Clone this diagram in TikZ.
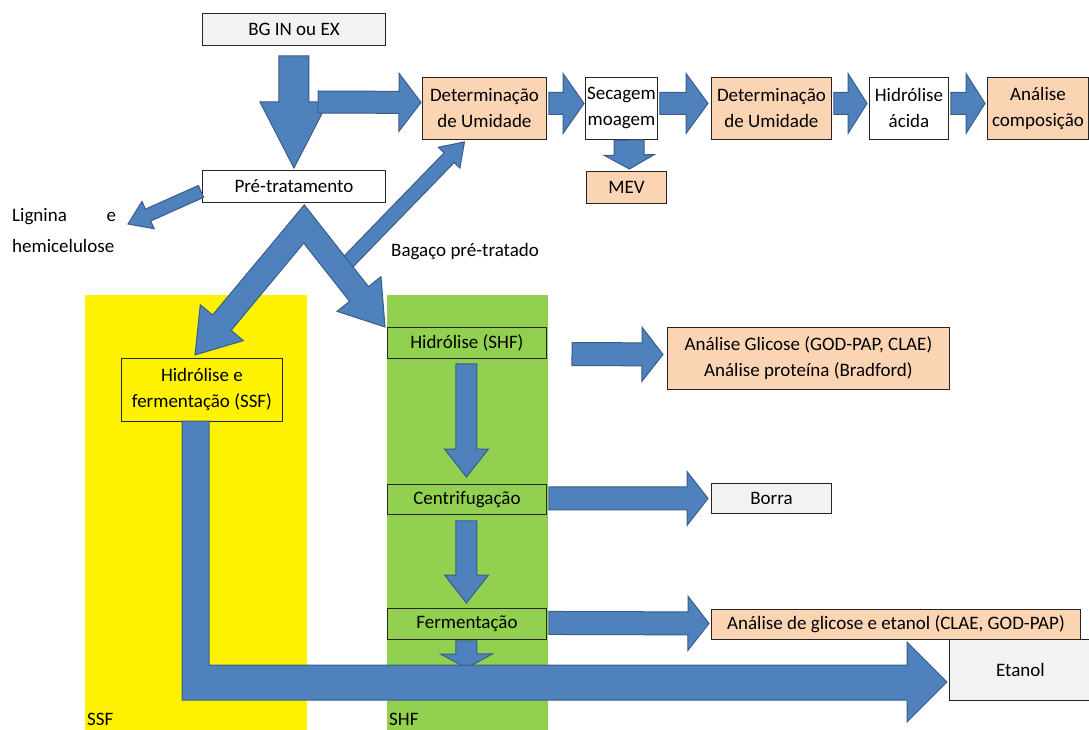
\documentclass[tikz,border=0pt]{standalone}
\usepackage{fontspec}
\setmainfont{Carlito}
\usetikzlibrary{calc}
\definecolor{peach}{HTML}{FBD4B4}
\definecolor{boxgray}{HTML}{F2F2F2}
\definecolor{arrblue}{HTML}{4F81BD}
\definecolor{arredge}{HTML}{385D8A}
\definecolor{shfgreen}{HTML}{92D050}
% block arrow: start, tip, shaft half width, head half width, head length
\newcommand{\fatarrow}[5]{%
  \coordinate (fa-s) at #1;
  \coordinate (fa-e) at #2;
  \coordinate (fa-b) at ($(fa-e)!#5!(fa-s)$);
  \filldraw[fatarr] ($(fa-s)!#3!90:(fa-e)$) -- ($(fa-b)!#3!90:(fa-e)$)
    -- ($(fa-b)!#4!90:(fa-e)$) -- (fa-e) -- ($(fa-b)!#4!-90:(fa-e)$)
    -- ($(fa-b)!#3!-90:(fa-e)$) -- ($(fa-s)!#3!-90:(fa-e)$) -- cycle;}
\begin{document}
\begin{tikzpicture}[x=1pt,y=-1pt,font=\fontsize{19}{26}\selectfont,
  box/.style={draw=black!85,line width=0.9pt,inner sep=0pt,align=center,anchor=north west},
  wh/.style 2 args={minimum width=#1,minimum height=#2},
  fatarr/.style={fill=arrblue,draw=arredge,line width=1pt,line join=miter}]
\useasboundingbox (0,0) rectangle (1089,730);
\fill[white] (0,0) rectangle (1089,730);
% lanes
\fill[yellow] (85,295) rectangle (307,730);
\fill[shfgreen] (387,295) rectangle (548,730);
\node[anchor=west,inner sep=0pt] (ssflab) at (87,719) {SSF};
\node[anchor=west,inner sep=0pt] (shflab) at (389,719) {SHF};
% top: characterisation
\node[box,wh={183}{32},fill=boxgray] (bg) at (202,13) {BG IN ou EX};
\node[box,wh={183}{32}] (pre) at (202,170) {Pré-tratamento};
\node[box,wh={124}{62},fill=peach] (det1) at (422,77) {Determinação\\de Umidade};
\node[box,wh={72}{62}] (sec) at (585,77) {Secagem\\moagem};
\node[box,wh={120}{62},fill=peach] (det2) at (711,77) {Determinação\\de Umidade};
\node[box,wh={79}{62}] (hac) at (869,77) {Hidrólise\\ácida};
\node[box,wh={101}{62},fill=peach] (comp) at (987,77) {Análise\\composição};
\node[box,wh={80}{32},fill=peach] (mev) at (586,171) {MEV};
\node[anchor=north west,inner sep=0pt,text width=104,align=left,
  font=\fontsize{19}{31}\selectfont] (lig) at (12,208) {Lignina\hfill e\\hemicelulose};
\node[anchor=west,inner sep=0pt] (bag) at (391,252) {Bagaço pré-tratado};
% SSF / SHF routes
\node[box,wh={161}{63}] (ssf) at (121,358) {Hidrólise e\\fermentação (SSF)};
\node[box,wh={159}{31}] (hshf) at (387,327) {Hidrólise (SHF)};
\node[box,wh={159}{30}] (cen) at (387,484) {Centrifugação};
\node[box,wh={159}{31}] (fer) at (387,608) {Fermentação};
\node[box,wh={282}{62},fill=peach] (ag) at (667,327) {Análise Glicose (GOD-PAP, CLAE)\\Análise proteína (Bradford)};
\node[box,wh={120}{30},fill=boxgray] (borra) at (711,483) {Borra};
\node[box,wh={369}{30},fill=peach] (age) at (711,609) {Análise de glicose e etanol (CLAE, GOD-PAP)};
\node[box,wh={142}{61},fill=boxgray] (eta) at (949,639) {Etanol};
% arrows, top
\fatarrow{($(bg.south)+(0,10)$)}{($(pre.north)+(0,-2)$)}{15pt}{34pt}{66pt}
\fatarrow{(318,102)}{($(det1.west)+(-1,-6)$)}{11pt}{29pt}{22pt}
\fatarrow{($(det1.east)+(2,-5)$)}{($(sec.west)+(-1,-5)$)}{11pt}{30pt}{21pt}
\fatarrow{($(sec.east)+(2,-5)$)}{($(det2.west)+(-3,-5)$)}{11pt}{30pt}{22pt}
\fatarrow{($(det2.east)+(2,-5)$)}{($(hac.west)+(-2,-5)$)}{11pt}{30pt}{19pt}
\fatarrow{($(hac.east)+(2,-5)$)}{($(comp.west)+(-2,-5)$)}{11pt}{30pt}{19pt}
\fatarrow{(629,140)}{($(mev.north)+(3,-2)$)}{15pt}{25pt}{14pt}
\fatarrow{($(pre.west)+(-1,5)$)}{(128,224)}{6.5pt}{15pt}{22pt}
\fatarrow{(348,262)}{($(det1.south)+(-20,2)$)}{7pt}{15pt}{22pt}
% split after pre-treatment
\filldraw[fatarr] (304.3,204.9) -- (212.6,315.0) -- (200.3,304.8) -- (195,355)
  -- (243.4,340.6) -- (231.1,330.4) -- (303.7,243.1) -- (349.6,301.4)
  -- (337.0,311.3) -- (385,327) -- (381.0,276.7) -- (368.5,286.6) -- cycle;
% arrows, SHF
\fatarrow{(572,354)}{($(ag.west)+(-4,-4)$)}{11.5pt}{27pt}{21pt}
\fatarrow{($(hshf.south)+(-0.5,5)$)}{($(cen.north)+(-0.5,-7)$)}{10.5pt}{22pt}{28pt}
\fatarrow{($(cen.south)+(-0.5,6)$)}{($(fer.north)+(-0.5,-5)$)}{10.5pt}{22pt}{28pt}
\fatarrow{($(cen.east)+(2,-1)$)}{($(borra.west)+(-3,0)$)}{11.5pt}{27pt}{21pt}
\fatarrow{($(fer.east)+(2,-1)$)}{($(age.west)+(-2,-1)$)}{11.5pt}{27pt}{21pt}
\fatarrow{($(fer.south)+(-0.5,1)$)}{(466.5,668)}{10.5pt}{26pt}{14pt}
% SSF to ethanol
\filldraw[fatarr] (182,421) -- (209,421) -- (209,665) -- (907,665) -- (907,642)
  -- (947,682) -- (907,722) -- (907,700) -- (182,700) -- cycle;
\end{tikzpicture}
\end{document}
